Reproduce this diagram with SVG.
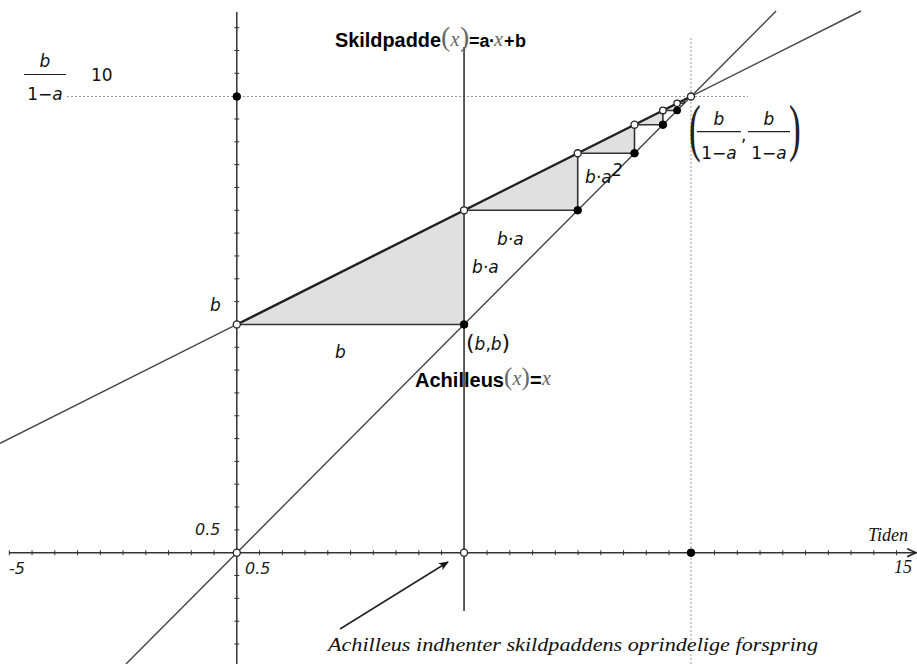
<svg xmlns="http://www.w3.org/2000/svg" width="917" height="664" viewBox="0 0 917 664">
<style>
.axis{stroke:#333;stroke-width:1.5;fill:none}
.tick{stroke:#333;stroke-width:1}
.ln{stroke:#444;stroke-width:1.4;fill:none}
.bold{stroke:#222;stroke-width:2.4;fill:none}
.edge{stroke:#333;stroke-width:1.6;fill:none}
.tri{fill:#e0e0e0;stroke:none}
.dot{stroke:#999;stroke-width:1;stroke-dasharray:2,2;fill:none}
.open{fill:#fff;stroke:#222;stroke-width:1.3}
.fill{fill:#000;stroke:#000;stroke-width:1}
.m{font-family:"DejaVu Sans",sans-serif;font-size:17px;fill:#111}
.mi{font-style:italic}
.num{font-family:"DejaVu Sans",sans-serif;font-size:16px;font-style:italic;fill:#222}
.serif{font-family:"Liberation Serif",serif;font-style:italic;fill:#111}
.bl{font-family:"Liberation Sans",sans-serif;font-weight:bold;font-size:20px;fill:#000}
.bs{font-family:"Liberation Sans",sans-serif;font-weight:bold;font-size:18px;fill:#000}
.gp{font-family:"Liberation Serif",serif;fill:#666}
.par{font-family:"Liberation Serif",serif;fill:#222}
</style>
<defs>
<marker id="ah" markerWidth="10" markerHeight="8" refX="9" refY="4" orient="auto" markerUnits="userSpaceOnUse">
<path d="M0,0 L10,4 L0,8 L2.5,4 Z" fill="#111"/>
</marker>
<marker id="xa" markerWidth="10" markerHeight="10" refX="9" refY="5" orient="auto" markerUnits="userSpaceOnUse">
<path d="M0,1 L9,5 L0,9" fill="none" stroke="#222" stroke-width="1.6"/>
</marker>
</defs>
<rect width="917" height="664" fill="#fff"/>

<g id="shading">
<polygon class="tri" points="236.8,324.45 464.05,210.3 464.05,324.45"/>
<polygon class="tri" points="464.05,210.3 577.7,153.25 577.7,210.3"/>
<polygon class="tri" points="577.7,153.25 634.5,124.7 634.5,153.25"/>
<polygon class="tri" points="634.5,124.7 662.9,110.45 662.9,124.7"/>
<polygon class="tri" points="662.9,110.45 677.1,103.3 677.1,110.45"/>
<polygon class="tri" points="677.1,103.3 684.2,99.75 684.2,103.3"/>
</g>

<g id="guides">
<line class="dot" x1="67" y1="96.5" x2="748" y2="96.5"/>
<line class="dot" x1="691" y1="38" x2="691" y2="664"/>
</g>

<g id="axes">
<line class="axis" x1="9" y1="552.7" x2="916" y2="552.7" marker-end="url(#xa)"/>
<line class="axis" x1="236.8" y1="12" x2="236.8" y2="664"/>
<path class="tick" d="M9.3,550.2v5M32.05,550.2v5M54.8,550.2v5M77.55,550.2v5M100.3,550.2v5M123.05,550.2v5M145.8,550.2v5M168.55,550.2v5M191.3,550.2v5M214.05,550.2v5M259.55,550.2v5M282.3,550.2v5M305.05,550.2v5M327.8,550.2v5M350.55,550.2v5M373.3,550.2v5M396.05,550.2v5M418.8,550.2v5M441.55,550.2v5M487.05,550.2v5M509.8,550.2v5M532.55,550.2v5M555.3,550.2v5M578.05,550.2v5M600.8,550.2v5M623.55,550.2v5M646.3,550.2v5M669.05,550.2v5M714.55,550.2v5M737.3,550.2v5M760.05,550.2v5M782.8,550.2v5M805.55,550.2v5M828.3,550.2v5M851.05,550.2v5M873.8,550.2v5M896.55,550.2v5"/>
<path class="tick" d="M234.3,27.7h5M234.3,50.5h5M234.3,73.35h5M234.3,119h5M234.3,141.8h5M234.3,164.65h5M234.3,187.5h5M234.3,210.3h5M234.3,233.1h5M234.3,255.95h5M234.3,278.8h5M234.3,301.6h5M234.3,347.3h5M234.3,370.1h5M234.3,392.9h5M234.3,415.75h5M234.3,438.6h5M234.3,461.4h5M234.3,484.2h5M234.3,507.05h5M234.3,529.9h5M234.3,575.5h5M234.3,598.35h5M234.3,621.2h5M234.3,644h5"/>
</g>

<g id="connectors">
<line class="ln" x1="0" y1="443.4" x2="861" y2="11"/>
<line class="bold" x1="236.8" y1="324.45" x2="691.3" y2="96.2"/>
<line class="ln" x1="126" y1="664" x2="776.1" y2="11"/>
<line class="edge" x1="464.05" y1="47" x2="464.05" y2="611"/>
<path class="edge" d="M236.8,324.45H464.05M464.05,210.3H577.7V153.25H634.5V124.7H662.9V110.45H677.1V103.3H684.2V99.75"/>
<line stroke="#222" stroke-width="1.5" x1="340" y1="629" x2="448" y2="562" marker-end="url(#ah)"/>
</g>

<g id="points">
<circle class="fill" cx="236.8" cy="96.5" r="3.8"/>
<circle class="fill" cx="691" cy="552.7" r="3.8"/>
<circle class="fill" cx="464.05" cy="324.45" r="3.8"/>
<circle class="fill" cx="577.7" cy="210.3" r="3.8"/>
<circle class="fill" cx="634.5" cy="153.25" r="3.8"/>
<circle class="fill" cx="662.9" cy="124.7" r="3.8"/>
<circle class="fill" cx="677.1" cy="110.45" r="3.5"/>
<circle class="open" cx="236.8" cy="552.7" r="3.5"/>
<circle class="open" cx="464.05" cy="552.7" r="3.5"/>
<circle class="open" cx="236.8" cy="324.45" r="3.5"/>
<circle class="open" cx="464.05" cy="210.3" r="3.5"/>
<circle class="open" cx="577.7" cy="153.25" r="3.5"/>
<circle class="open" cx="634.5" cy="124.7" r="3.5"/>
<circle class="open" cx="662.9" cy="110.45" r="3.3"/>
<circle class="open" cx="677.1" cy="103.3" r="3.2"/>
<circle class="open" cx="691" cy="96.5" r="3.5"/>
</g>

<g id="label-fixed-y">
<text class="m mi" x="45" y="67" text-anchor="middle">b</text>
<line x1="24" y1="74.5" x2="66" y2="74.5" stroke="#222" stroke-width="1.2"/>
<text class="m" x="45" y="100" text-anchor="middle">1−<tspan class="mi">a</tspan></text>
<text class="m" x="91" y="81">10</text>
</g>

<g id="label-skildpadde">
<text class="bl" x="335" y="47" textLength="106" lengthAdjust="spacingAndGlyphs">Skildpadde</text>
<text class="gp" x="441" y="46" font-size="28">(</text>
<text class="gp" x="450.5" y="46" font-size="20" font-style="italic">x</text>
<text class="gp" x="460" y="46" font-size="28">)</text>
<text class="bs" x="469" y="47">=</text>
<text class="bs" x="479.5" y="47">a</text>
<text class="bs" x="489" y="47">·</text>
<text class="gp" x="494" y="46" font-size="20" font-style="italic">x</text>
<text class="bs" x="504" y="47">+</text>
<text class="bs" x="515" y="47">b</text>
</g>

<g id="label-achilleus">
<text class="bl" x="415" y="387" textLength="89" lengthAdjust="spacingAndGlyphs">Achilleus</text>
<text class="gp" x="504" y="385" font-size="25">(</text>
<text class="gp" x="512.5" y="385" font-size="20" font-style="italic">x</text>
<text class="gp" x="521.5" y="385" font-size="25">)</text>
<text class="bl" x="530" y="387">=</text>
<text class="gp" x="542" y="385" font-size="20" font-style="italic">x</text>
</g>

<g id="label-fixed-point">
<text class="par" transform="translate(689,149) scale(0.55,1)" font-size="64">(</text>
<text class="m mi" x="719" y="125" text-anchor="middle">b</text>
<line x1="697" y1="131.7" x2="741" y2="131.7" stroke="#222" stroke-width="1.2"/>
<text class="m" x="719" y="159" text-anchor="middle">1−<tspan class="mi">a</tspan></text>
<text class="m" x="741" y="141">,</text>
<text class="m mi" x="769" y="125" text-anchor="middle">b</text>
<line x1="748" y1="131.7" x2="790" y2="131.7" stroke="#222" stroke-width="1.2"/>
<text class="m" x="769" y="159" text-anchor="middle">1−<tspan class="mi">a</tspan></text>
<text class="par" transform="translate(789,149) scale(0.55,1)" font-size="64">)</text>
</g>

<g id="segment-labels">
<text class="m mi" x="210" y="311">b</text>
<text class="m mi" x="335" y="358">b</text>
<text class="m mi" x="497" y="245">b·a</text>
<text class="m mi" x="472" y="273">b·a</text>
<text class="m mi" x="585" y="183">b·a<tspan dy="-7">2</tspan></text>
<text class="m" x="466" y="350" font-size="18"><tspan font-size="22">(</tspan><tspan class="mi">b</tspan>,<tspan class="mi">b</tspan><tspan font-size="22">)</tspan></text>
</g>

<g id="axis-labels">
<text class="num" x="195" y="535">0.5</text>
<text class="num" x="245" y="574">0.5</text>
<text class="num" x="9" y="574">-5</text>
<text class="serif" x="894" y="573" font-size="18">15</text>
<text class="serif" x="868" y="541" font-size="18">Tiden</text>
</g>

<g id="note">
<text class="serif" x="328" y="651" font-size="19" textLength="490" lengthAdjust="spacingAndGlyphs">Achilleus indhenter skildpaddens oprindelige forspring</text>
</g>
</svg>
